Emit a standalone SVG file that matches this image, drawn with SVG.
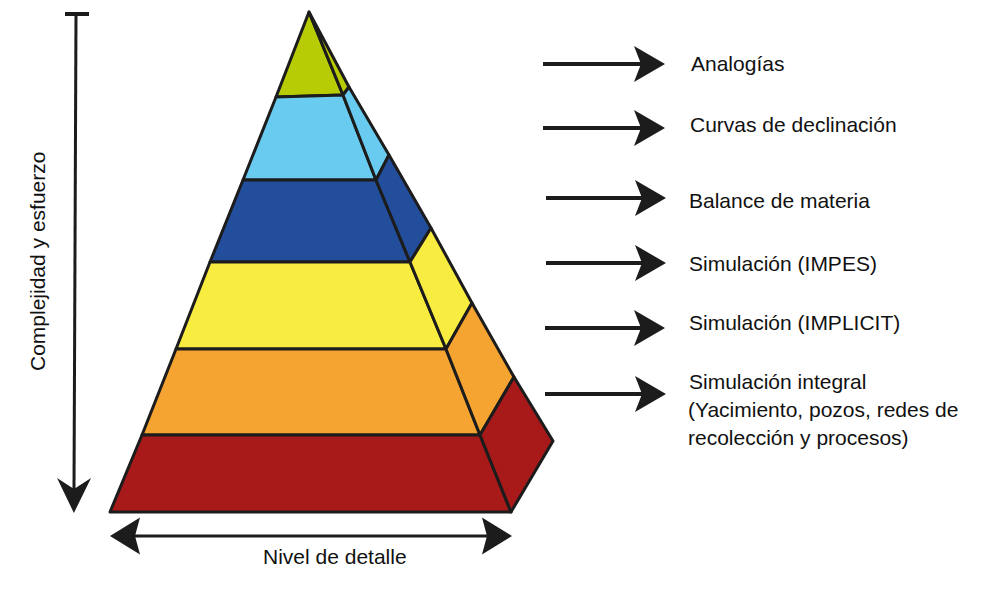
<svg xmlns="http://www.w3.org/2000/svg" width="989" height="589" viewBox="0 0 989 589">
  <style>
    .face { stroke: #1c1c1c; stroke-width: 3; stroke-linejoin: round; }
    .g1 { fill: #B8CC06; }
    .g2 { fill: #69CBF0; }
    .g3 { fill: #224E9C; }
    .g4 { fill: #F9EC40; }
    .g5 { fill: #F5A431; }
    .g6 { fill: #A81A1A; }
    .lbl { font-family: "Liberation Sans", Arial, sans-serif; font-size: 21px; fill: #111; }
    .shaft { stroke: #1c1c1c; stroke-width: 4; fill: none; }
    .thin { stroke: #1c1c1c; stroke-width: 3; fill: none; }
  </style>
  <defs>
    <marker id="headR" viewBox="-10 -20 40 40" markerWidth="40" markerHeight="40" refX="0" refY="0" orient="auto" markerUnits="userSpaceOnUse" overflow="visible">
      <path d="M24,0 L-7,-18 L0,0 L-7,18 Z" fill="#1c1c1c"/>
    </marker>
    <marker id="headB" viewBox="-10 -20 40 40" markerWidth="40" markerHeight="40" refX="0" refY="0" orient="auto-start-reverse" markerUnits="userSpaceOnUse" overflow="visible">
      <path d="M25,0 L-5,-18.5 L0,0 L-5,18.5 Z" fill="#1c1c1c"/>
    </marker>
    <marker id="headV" viewBox="-15 -20 45 40" markerWidth="45" markerHeight="40" refX="0" refY="0" orient="auto" markerUnits="userSpaceOnUse" overflow="visible">
      <path d="M24,0 L-11,-17 L0,0 L-11,17 Z" fill="#1c1c1c"/>
    </marker>
  </defs>

  <rect width="989" height="589" fill="#ffffff"/>

  <g id="layer-analogias">
    <polygon class="face g1" points="309,12 276,97 343,95"/>
    <polygon class="face g1" points="309,12 343,95 349,87"/>
  </g>
  <g id="layer-curvas">
    <polygon class="face g2" points="276,97 343,95 376,180 243,180"/>
    <polygon class="face g2" points="343,95 349,87 389,155 376,180"/>
  </g>
  <g id="layer-balance">
    <polygon class="face g3" points="243,180 376,180 410,262 210,262"/>
    <polygon class="face g3" points="376,180 389,155 431,228 410,262"/>
  </g>
  <g id="layer-impes">
    <polygon class="face g4" points="210,262 410,262 446,349 176,349"/>
    <polygon class="face g4" points="410,262 431,228 472,303 446,349"/>
  </g>
  <g id="layer-implicit">
    <polygon class="face g5" points="176,349 446,349 480,435 142,435"/>
    <polygon class="face g5" points="446,349 472,303 514,377 480,435"/>
  </g>
  <g id="layer-integral">
    <polygon class="face g6" points="142,435 480,435 511,512 110,512"/>
    <polygon class="face g6" points="480,435 514,377 553,441 511,512"/>
  </g>

  <g id="connectors">
    <line class="shaft" x1="543" y1="64" x2="641" y2="64" marker-end="url(#headR)"/>
    <line class="shaft" x1="543" y1="128" x2="641" y2="128" marker-end="url(#headR)"/>
    <line class="shaft" x1="546" y1="198" x2="642" y2="198" marker-end="url(#headR)"/>
    <line class="shaft" x1="546" y1="263" x2="642" y2="263" marker-end="url(#headR)"/>
    <line class="shaft" x1="545" y1="328" x2="641" y2="328" marker-end="url(#headR)"/>
    <line class="shaft" x1="545" y1="394" x2="642" y2="394" marker-end="url(#headR)"/>
    <line class="thin" x1="135" y1="536" x2="487" y2="536" marker-start="url(#headB)" marker-end="url(#headB)"/>
    <line class="thin" x1="76" y1="14" x2="74" y2="489" marker-end="url(#headV)"/>
    <line x1="65" y1="14" x2="89" y2="14" stroke="#1c1c1c" stroke-width="4"/>
  </g>

  <g id="label-analogias"><text class="lbl" x="691" y="71">Analogías</text></g>
  <g id="label-curvas"><text class="lbl" x="690" y="132">Curvas de declinación</text></g>
  <g id="label-balance"><text class="lbl" x="689" y="208">Balance de materia</text></g>
  <g id="label-impes"><text class="lbl" x="689" y="271">Simulación (IMPES)</text></g>
  <g id="label-implicit"><text class="lbl" x="689" y="330">Simulación (IMPLICIT)</text></g>
  <g id="label-integral">
    <text class="lbl" x="689" y="389">Simulación integral</text>
    <text class="lbl" x="688" y="417">(Yacimiento, pozos, redes de</text>
    <text class="lbl" x="688" y="445">recolección y procesos)</text>
  </g>
  <g id="label-detalle"><text class="lbl" x="263" y="564">Nivel de detalle</text></g>
  <g id="label-complejidad"><text class="lbl" transform="translate(45,371) rotate(-90)" x="0" y="0">Complejidad y esfuerzo</text></g>
</svg>
